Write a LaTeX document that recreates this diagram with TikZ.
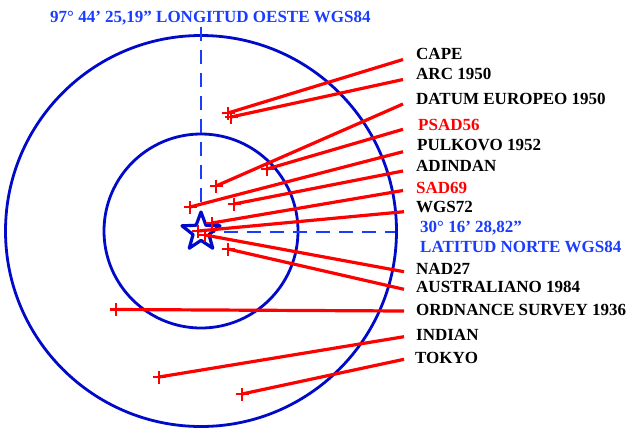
\documentclass[tikz,border=0pt]{standalone}
\usepackage{fontspec}
\setmainfont{Liberation Serif}
\usetikzlibrary{shapes.geometric}
\definecolor{circblue}{RGB}{0,10,200}
\definecolor{txtblue}{RGB}{25,60,255}
\definecolor{lred}{RGB}{255,0,0}
\tikzset{
  circ/.style={draw=circblue, line width=2.8pt},
  guide/.style={draw=txtblue, line width=1.1pt, dash pattern=on 14pt off 9pt},
  datumline/.style={draw=lred, line width=3.2pt},
  xmark/.pic={\draw[lred, line width=2.8pt] (-6.5,0)--(6.5,0) (0,-6.5)--(0,6.5);},
  lbl/.style={anchor=base west, inner sep=0pt, font=\fontsize{17}{20}\selectfont\bfseries, text=black},
  redlbl/.style={lbl, text=lred},
  bluelbl/.style={lbl, text=txtblue}
}
\begin{document}
\begin{tikzpicture}[x=1pt,y=-1pt]
\useasboundingbox (0,0) rectangle (639,432);
% circles
\draw[circ] (201,231) circle[radius=195.5pt];
\draw[circ] (201,231) circle[radius=97pt];
% guide lines
\coordinate (ctr) at (201,232);
\coordinate (vtop) at (201,27);
\coordinate (hend) at (395,232);
\draw[guide] (vtop) -- (ctr);
\draw[guide] (ctr) -- (hend);
% star
\node[star, star points=5, star point ratio=2.4, minimum size=40pt, inner sep=0pt,
      draw=circblue, line width=3.2pt, fill=white, line join=round] (star) at (ctr) {};
% start points
\coordinate (sCape) at (228,113);
\coordinate (sArc) at (231,117);
\coordinate (sDatum) at (216,186);
\coordinate (sPsad) at (267,169);
\coordinate (sPulk) at (190,207);
\coordinate (sAdin) at (234,204);
\coordinate (sSad) at (212,223);
\coordinate (sWgs) at (198,231);
\coordinate (sNad) at (205,235);
\coordinate (sAus) at (228,249);
\coordinate (sOrd) at (116,309.5);
\coordinate (sInd) at (159,377);
\coordinate (sTok) at (242,394);
% end points
\coordinate (eCape) at (403,59.5);
\coordinate (eArc) at (403,79.5);
\coordinate (eDatum) at (403,104);
\coordinate (ePsad) at (403,129.3);
\coordinate (ePulk) at (403,151.7);
\coordinate (eAdin) at (403,171);
\coordinate (eSad) at (403,190.5);
\coordinate (eWgs) at (404,211.7);
\coordinate (eNad) at (404,271.7);
\coordinate (eAus) at (404,289.3);
\coordinate (eOrd) at (404,311);
\coordinate (eInd) at (404,336.7);
\coordinate (eTok) at (404,359.3);
% lines
\draw[datumline] (sCape) -- (eCape);
\draw[datumline] (sArc) -- (eArc);
\draw[datumline] (sDatum) -- (eDatum);
\draw[datumline] (sPsad) -- (ePsad);
\draw[datumline] (sPulk) -- (ePulk);
\draw[datumline] (sAdin) -- (eAdin);
\draw[datumline] (sSad) -- (eSad);
\draw[datumline] (sWgs) -- (eWgs);
\draw[datumline] (sNad) -- (eNad);
\draw[datumline] (sAus) -- (eAus);
\draw[datumline] (sOrd) -- (eOrd);
\draw[datumline] (sInd) -- (eInd);
\draw[datumline] (sTok) -- (eTok);
% crosses
\foreach \p in {sCape,sArc,sDatum,sPsad,sPulk,sAdin,sSad,sWgs,sNad,sAus,sOrd,sInd,sTok}
  \pic at (\p) {xmark};
% labels
\node[bluelbl] (title) at (50,22.7) {97° 44’ 25,19” LONGITUD OESTE WGS84};
\node[lbl] (lCape) at (416,59.3) {CAPE};
\node[lbl] (lArc) at (416,79) {ARC 1950};
\node[lbl] (lDatum) at (416,104.7) {DATUM EUROPEO 1950};
\node[redlbl] (lPsad) at (418,130.7) {PSAD56};
\node[lbl] (lPulk) at (417,150.7) {PULKOVO 1952};
\node[lbl] (lAdin) at (416,171.7) {ADINDAN};
\node[redlbl] (lSad) at (416,193.7) {SAD69};
\node[lbl] (lWgs) at (416,212.7) {WGS72};
\node[bluelbl] (lLat1) at (420,232.7) {30° 16’ 28,82”};
\node[bluelbl] (lLat2) at (420,252.7) {LATITUD NORTE WGS84};
\node[lbl] (lNad) at (416,274.7) {NAD27};
\node[lbl] (lAus) at (416,292.7) {AUSTRALIANO 1984};
\node[lbl] (lOrd) at (416,315.7) {ORDNANCE SURVEY 1936};
\node[lbl] (lInd) at (416,340.7) {INDIAN};
\node[lbl] (lTok) at (415,363.7) {TOKYO};
\end{tikzpicture}
\end{document}
